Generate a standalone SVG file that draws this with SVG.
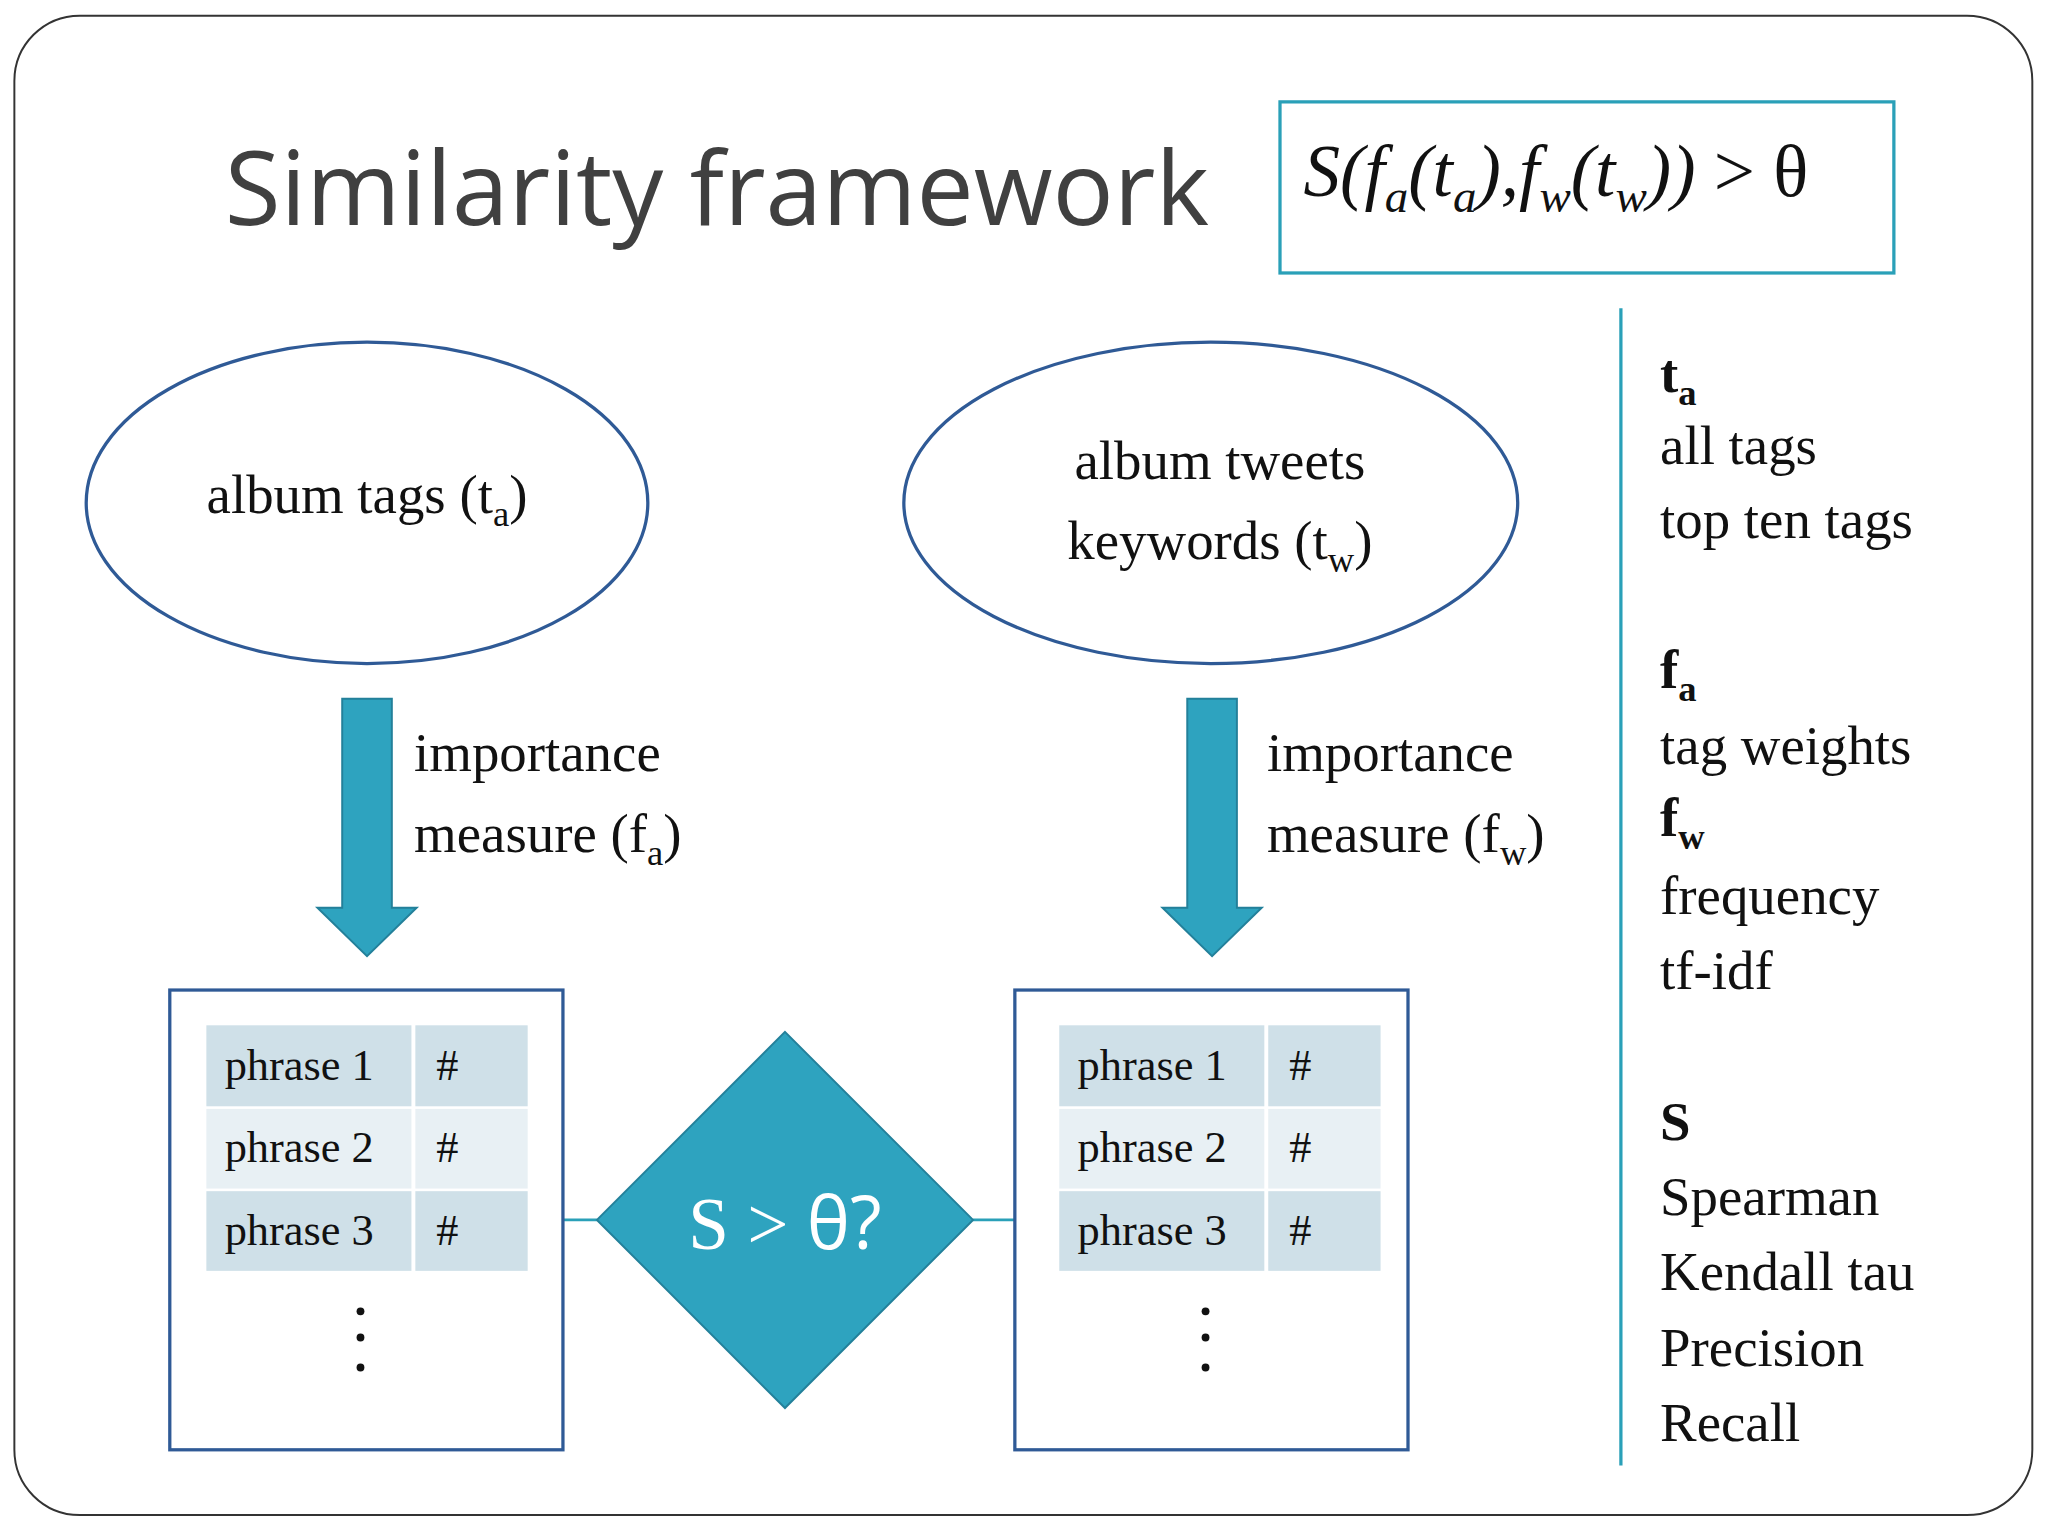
<svg xmlns="http://www.w3.org/2000/svg" width="2048" height="1536" viewBox="0 0 2048 1536">
<style>
.s{font-family:"Liberation Serif",serif;fill:#111;font-size:42px}
.t{font-family:"Liberation Serif",serif;fill:#111;font-size:34px}
.b{font-weight:bold}
.node{fill:#fff;stroke:#2f5a96;stroke-width:2.5}
.arr{fill:#2ea3bf;stroke:#23809a;stroke-width:1.5}
.r1{fill:#cfe0e8}.r2{fill:#e8f0f4}
</style>
<rect width="2048" height="1536" fill="#fff"/>
<g transform="scale(1.30612)">
<rect x="11" y="12" width="1545" height="1148" rx="50" fill="#fff" stroke="#333" stroke-width="1.5"/>
<text x="172" y="172" font-family="Open Sans, sans-serif" font-size="78" fill="#404040">Similarity framework</text>
<g id="formula">
<rect x="980" y="78" width="470" height="131" fill="#fff" stroke="#2aa0b8" stroke-width="2.5"/>
<text x="998" y="150" font-family="Liberation Serif, serif" font-size="56" fill="#111"><tspan font-style="italic">S(f<tspan font-size="36" dy="12">a</tspan><tspan dy="-12">(t</tspan><tspan font-size="36" dy="12">a</tspan><tspan dy="-12">),f</tspan><tspan font-size="36" dy="12">w</tspan><tspan dy="-12">(t</tspan><tspan font-size="36" dy="12">w</tspan><tspan dy="-12">))</tspan></tspan> &gt; θ</text>
</g>
<g id="tags">
<ellipse class="node" cx="281" cy="385" rx="215" ry="123"/>
<text class="s" x="281" y="393" text-anchor="middle">album tags (t<tspan font-size="28" dy="10">a</tspan><tspan dy="-10">)</tspan></text>
</g>
<g id="tweets">
<ellipse class="node" cx="927" cy="385" rx="235" ry="123"/>
<text class="s" x="934" y="367" text-anchor="middle">album tweets</text>
<text class="s" x="934" y="428" text-anchor="middle">keywords (t<tspan font-size="28" dy="10">w</tspan><tspan dy="-10">)</tspan></text>
</g>
<g id="connectors">
<path class="arr" d="M262 535H300V695H319L281 732L243 695H262Z"/>
<path class="arr" d="M909 535H947V695H966L928 732L890 695H909Z"/>
<line x1="431" y1="934" x2="457" y2="934" stroke="#2aa0b8" stroke-width="2"/>
<line x1="745" y1="934" x2="777" y2="934" stroke="#2aa0b8" stroke-width="2"/>
</g>
<text class="s" x="317" y="590">importance</text>
<text class="s" x="317" y="652">measure (f<tspan font-size="28" dy="10">a</tspan><tspan dy="-10">)</tspan></text>
<text class="s" x="970" y="590">importance</text>
<text class="s" x="970" y="652">measure (f<tspan font-size="28" dy="10">w</tspan><tspan dy="-10">)</tspan></text>
<g id="tableA">
<rect class="node" x="130" y="758" width="301" height="352"/>
<rect class="r1" x="158" y="785" width="157" height="62"/><rect class="r1" x="318" y="785" width="86" height="62"/>
<rect class="r2" x="158" y="849" width="157" height="61"/><rect class="r2" x="318" y="849" width="86" height="61"/>
<rect class="r1" x="158" y="912" width="157" height="61"/><rect class="r1" x="318" y="912" width="86" height="61"/>
<text class="t" x="172" y="827">phrase 1</text><text class="t" x="334" y="827">#</text>
<text class="t" x="172" y="890">phrase 2</text><text class="t" x="334" y="890">#</text>
<text class="t" x="172" y="953">phrase 3</text><text class="t" x="334" y="953">#</text>
<circle cx="276" cy="1004" r="3" fill="#111"/><circle cx="276" cy="1024" r="3" fill="#111"/><circle cx="276" cy="1047" r="3" fill="#111"/>
</g>
<g id="tableW">
<rect class="node" x="777" y="758" width="301" height="352"/>
<rect class="r1" x="811" y="785" width="157" height="62"/><rect class="r1" x="971" y="785" width="86" height="62"/>
<rect class="r2" x="811" y="849" width="157" height="61"/><rect class="r2" x="971" y="849" width="86" height="61"/>
<rect class="r1" x="811" y="912" width="157" height="61"/><rect class="r1" x="971" y="912" width="86" height="61"/>
<text class="t" x="825" y="827">phrase 1</text><text class="t" x="987" y="827">#</text>
<text class="t" x="825" y="890">phrase 2</text><text class="t" x="987" y="890">#</text>
<text class="t" x="825" y="953">phrase 3</text><text class="t" x="987" y="953">#</text>
<circle cx="923" cy="1004" r="3" fill="#111"/><circle cx="923" cy="1024" r="3" fill="#111"/><circle cx="923" cy="1047" r="3" fill="#111"/>
</g>
<g id="decision">
<path d="M601 790L745 934L601 1078L457 934Z" fill="#2ea3bf" stroke="#23809a" stroke-width="1.5"/>
<text x="601" y="956" text-anchor="middle" font-family="Open Sans, sans-serif" font-size="56" fill="#fff"><tspan font-family="Liberation Serif, serif">S &gt; </tspan>θ?</text>
</g>
<line x1="1241" y1="236" x2="1241" y2="1122" stroke="#2aa0b8" stroke-width="2.5"/>
<g id="legend" class="s">
<text class="s b" x="1271" y="300">t<tspan font-size="28" dy="10">a</tspan></text>
<text class="s" x="1271" y="355">all tags</text>
<text class="s" x="1271" y="412">top ten tags</text>
<text class="s b" x="1271" y="527">f<tspan font-size="28" dy="10">a</tspan></text>
<text class="s" x="1271" y="585">tag weights</text>
<text class="s b" x="1271" y="640">f<tspan font-size="28" dy="10">w</tspan></text>
<text class="s" x="1271" y="700">frequency</text>
<text class="s" x="1271" y="757">tf-idf</text>
<text class="s b" x="1271" y="873">S</text>
<text class="s" x="1271" y="930">Spearman</text>
<text class="s" x="1271" y="988">Kendall tau</text>
<text class="s" x="1271" y="1046">Precision</text>
<text class="s" x="1271" y="1103">Recall</text>
</g>
</g>
</svg>
